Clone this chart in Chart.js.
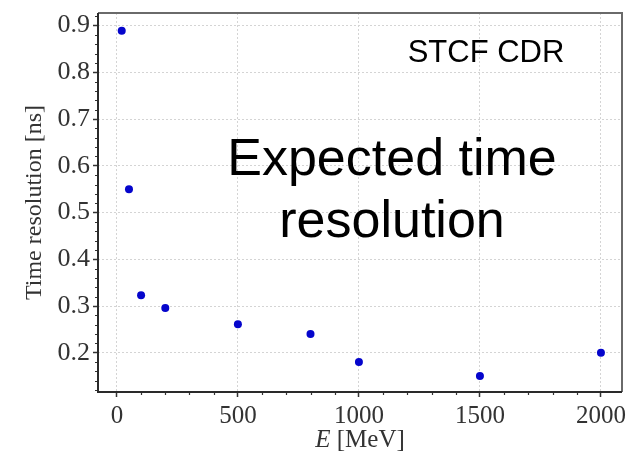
<!DOCTYPE html>
<html><head><meta charset="utf-8">
<script src="https://cdn.jsdelivr.net/npm/chart.js@4/dist/chart.umd.min.js"></script>
<style>html,body{margin:0;padding:0;background:#fff}canvas{display:block}</style>
</head><body>
<canvas id="c" width="628" height="455"></canvas>
<script>
const energies = [20, 50, 100, 200, 500, 800, 1000, 1500, 2000];
const timeResolution = [0.889, 0.55, 0.323, 0.296, 0.261, 0.24, 0.18, 0.15, 0.2];
const xTickValues = [0, 500, 1000, 1500, 2000];
const yTickValues = [0.2, 0.3, 0.4, 0.5, 0.6, 0.7, 0.8, 0.9];
const xMinorStep = 100;
const yMinorStep = 0.02;
const xTitleItalic = 'E';
const xTitleRest = ' [MeV]';
const yTitle = 'Time resolution [ns]';
const noteSmall = 'STCF CDR';
const noteBig = ['Expected time', 'resolution'];

const serif = "'Liberation Serif', 'Times New Roman', serif";
const sans = "'Liberation Sans', Arial, sans-serif";

const decor = {
  id: 'decor',
  afterDraw(chart) {
    const {ctx, chartArea: a, scales: {x, y}} = chart;
    ctx.save();
    ctx.setLineDash([]);
    // minor ticks
    ctx.strokeStyle = '#333';
    ctx.lineWidth = 1.2;
    ctx.beginPath();
    for (let i = Math.ceil(x.min / xMinorStep); i * xMinorStep <= x.max; i++) {
      const v = i * xMinorStep;
      if (xTickValues.some(t => Math.abs(t - v) < 1e-6)) continue;
      const px = Math.round(x.getPixelForValue(v)) + 0.5;
      ctx.moveTo(px, a.bottom); ctx.lineTo(px, a.bottom + 3);
    }
    for (let i = Math.ceil(y.min / yMinorStep - 1e-9); i * yMinorStep <= y.max + 1e-9; i++) {
      const v = i * yMinorStep;
      if (yTickValues.some(t => Math.abs(t - v) < 1e-6)) continue;
      const py = Math.round(y.getPixelForValue(v)) + 0.5;
      ctx.moveTo(a.left, py); ctx.lineTo(a.left - 3, py);
    }
    ctx.stroke();
    // frame
    ctx.strokeStyle = '#6a6a6a';
    ctx.lineWidth = 2;
    ctx.beginPath();
    ctx.moveTo(a.left, a.top); ctx.lineTo(a.right, a.top); ctx.lineTo(a.right, a.bottom);
    ctx.stroke();
    ctx.strokeStyle = '#2a2a2a';
    ctx.beginPath();
    ctx.moveTo(a.left, a.top); ctx.lineTo(a.left, a.bottom); ctx.lineTo(a.right, a.bottom);
    ctx.stroke();
    // x title
    ctx.fillStyle = '#333';
    ctx.textBaseline = 'alphabetic';
    ctx.textAlign = 'left';
    ctx.font = 'italic 25px ' + serif;
    const w1 = ctx.measureText(xTitleItalic).width;
    ctx.font = '25px ' + serif;
    const w2 = ctx.measureText(xTitleRest).width;
    const cx = (a.left + a.right) / 2;
    let sx = cx - (w1 + w2) / 2;
    ctx.font = 'italic 25px ' + serif;
    ctx.fillText(xTitleItalic, sx, 447);
    ctx.font = '25px ' + serif;
    ctx.fillText(xTitleRest, sx + w1, 447);
    // notes
    ctx.fillStyle = '#000';
    ctx.textAlign = 'center';
    ctx.font = '31px ' + sans;
    ctx.fillText(noteSmall, 486, 62);
    ctx.font = '52px ' + sans;
    ctx.fillText(noteBig[0], 392, 175);
    ctx.fillText(noteBig[1], 392, 237);
    ctx.restore();
  }
};

const gridCommon = {
  color: '#d4d4d4',
  lineWidth: 1,
  drawTicks: true,
  tickLength: 5,
  tickColor: '#333',
  tickWidth: 1.5,
  tickBorderDash: []
};

new Chart(document.getElementById('c'), {
  type: 'scatter',
  data: {
    datasets: [{
      data: energies.map((e, i) => ({x: e, y: timeResolution[i]})),
      backgroundColor: '#0505cc',
      borderColor: '#0505cc',
      pointRadius: 4,
      pointHoverRadius: 4,
      borderWidth: 0
    }]
  },
  options: {
    responsive: false,
    animation: false,
    events: [],
    layout: {padding: {top: 13, right: 6, left: 0, bottom: 0}},
    plugins: {legend: {display: false}, tooltip: {enabled: false}},
    scales: {
      x: {
        type: 'linear',
        min: -78,
        max: 2087,
        afterBuildTicks: s => { s.ticks = xTickValues.map(v => ({value: v})); },
        afterFit: s => { s.height = 63; s.paddingLeft = 0; s.paddingRight = 0; },
        grid: gridCommon,
        border: {display: false, dash: [2, 2]},
        ticks: {
          color: '#333',
          font: {family: serif, size: 25},
          padding: 4,
          maxRotation: 0,
          callback: v => String(v)
        },
        title: {display: false}
      },
      y: {
        type: 'linear',
        min: 0.116,
        max: 0.927,
        afterBuildTicks: s => { s.ticks = yTickValues.map(v => ({value: v})); },
        afterFit: s => { s.width = 98; s.paddingTop = 0; s.paddingBottom = 0; },
        grid: gridCommon,
        border: {display: false, dash: [2, 2]},
        ticks: {
          color: '#333',
          font: {family: serif, size: 26},
          padding: 3,
          callback: v => Number(v).toFixed(1)
        },
        title: {
          display: true,
          text: yTitle,
          color: '#333',
          font: {family: serif, size: 24},
          padding: {top: 20, bottom: 0}
        }
      }
    }
  },
  plugins: [decor]
});
</script>
</body></html>
